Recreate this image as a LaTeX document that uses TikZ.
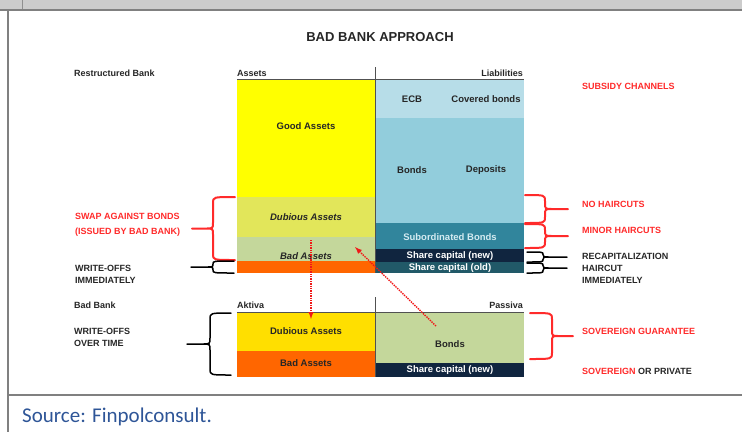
\documentclass[tikz,border=0pt]{standalone}
\usepackage{fontspec}
\setmainfont{Liberation Sans}
\newfontfamily\srcfont{Carlito}

\definecolor{framegray}{HTML}{808080}
\definecolor{bargray}{HTML}{CCCCCC}
\definecolor{goodyel}{HTML}{FFFF00}
\definecolor{dubyel}{HTML}{E2E65A}
\definecolor{badolive}{HTML}{C4D79B}
\definecolor{lossorange}{HTML}{FF6600}
\definecolor{aktyel}{HTML}{FFDF00}
\definecolor{ecbblue}{HTML}{B7DDE8}
\definecolor{bondblue}{HTML}{92CDDC}
\definecolor{subteal}{HTML}{31859C}
\definecolor{capnavy}{HTML}{10253F}
\definecolor{capteal}{HTML}{215968}
\definecolor{swapred}{HTML}{FF2A2A}
\definecolor{arrowred}{HTML}{F01818}
\definecolor{inkgray}{HTML}{262626}
\definecolor{srcblue}{HTML}{2E5597}

% brace: style, end x, top y, bottom y, body x, stem x
\newcommand{\sidebrace}[6]{%
  \pgfmathsetmacro{\bmid}{(#3+#4)/2}
  \pgfmathsetmacro{\brad}{min(6,(#4-#3)/4)}
  \pgfmathsetmacro{\btip}{#5+(#6-#5)/3}
  \draw[#1] (#2,#3) .. controls (#5,#3) .. (#5,{#3+\brad}) --
	(#5,{\bmid-\brad}) .. controls (#5,\bmid) .. (\btip,\bmid)
	.. controls (#5,\bmid) .. (#5,{\bmid+\brad}) --
	(#5,{#4-\brad}) .. controls (#5,#4) .. (#2,#4)
	(\btip,\bmid) -- (#6,\bmid);
}

\begin{document}
\begin{tikzpicture}[
    x = 1pt, y = -1pt,
    lbl/.style = {font = \bfseries\fontsize{9}{12}\selectfont, inner sep = 0pt, text = inkgray},
    boxlbl/.style = {lbl, font = \bfseries\fontsize{9.5}{11}\selectfont},
    note/.style = {lbl, anchor = west, align = left},
    rednote/.style = {note, text = swapred},
    axisline/.style = {draw = inkgray!80, line width = 0.8pt},
    bracered/.style = {draw = swapred, line width = 2pt, line cap = round, line join = round},
    braceblk/.style = {draw = black, line width = 1.5pt, line cap = round, line join = round},
    swaparrow/.style = {draw = arrowred, densely dotted, line width = 1.4pt, -latex}]

\useasboundingbox (0,0) rectangle (742,432);

% frame
\fill[bargray] (0,0) rectangle (742,10);
\draw[bargray!70!black, line width = 0.5pt] (22,0) -- (22,9);
\draw[framegray, line width = 2pt] (0,10) -- (742,10)
	  (8,10) -- (8,432)
	  (8,395) -- (742,395);

\node[font = \bfseries\fontsize{13}{15}\selectfont, text = inkgray] (title) at (380,37) {BAD BANK APPROACH};

% restructured bank
\fill[goodyel] (237,79) rectangle (375,197);
\fill[dubyel] (237,197) rectangle (375,237);
\fill[badolive] (237,237) rectangle (375,261);
\fill[lossorange] (237,261) rectangle (375,273);
\fill[ecbblue] (375,79) rectangle (524,118);
\fill[bondblue] (375,118) rectangle (524,223);
\fill[subteal] (375,223) rectangle (524,249);
\fill[capnavy] (375,249) rectangle (524,262);
\fill[capteal] (375,262) rectangle (524,273);
\draw[axisline] (237,79) -- (524,79)
	  (375,67) -- (375,273);

% bad bank
\fill[aktyel] (237,312) rectangle (375,351);
\fill[lossorange] (237,351) rectangle (375,377);
\fill[badolive] (375,312) rectangle (524,363);
\fill[capnavy] (375,363) rectangle (524,377);
\draw[axisline] (237,312) -- (524,312)
	  (375,297) -- (375,377);

% box texts
\node[boxlbl] (good) at (306,126) {Good Assets};
\node[boxlbl] (ecb) at (412,99) {ECB};
\node[boxlbl] (covered) at (486,99) {Covered bonds};
\node[boxlbl] (bonds) at (412,170) {Bonds};
\node[boxlbl] (deposits) at (486,170) {Deposits};
\node[boxlbl, font = \bfseries\itshape\fontsize{9.5}{11}\selectfont] (dubious) at (306,217) {Dubious Assets};
\node[boxlbl, font = \bfseries\itshape\fontsize{9.5}{11}\selectfont] (bad) at (306,256) {Bad Assets};
\node[boxlbl, text = ecbblue!60!white] (subord) at (450,237) {Subordinated Bonds};
\node[boxlbl, text = white] (capnew) at (450,256) {Share capital (new)};
\node[boxlbl, text = white] (capold) at (450,268) {Share capital (old)};
\node[boxlbl] (bbdubious) at (306,331) {Dubious Assets};
\node[boxlbl] (bbbad) at (306,363) {Bad Assets};
\node[boxlbl] (bbbonds) at (450,344) {Bonds};
\node[boxlbl, text = white] (bbcap) at (450,370) {Share capital (new)};

% headings
\node[note] (restr) at (74,73) {Restructured Bank};
\node[note] (assets) at (237,73) {Assets};
\node[lbl, anchor = east] (liab) at (523,73) {Liabilities};
\node[note] (badbank) at (74,305) {Bad Bank};
\node[note] (aktiva) at (237,305) {Aktiva};
\node[lbl, anchor = east] (passiva) at (523,305) {Passiva};

% left notes
\node[rednote] (swap) at (75,224.5) {SWAP AGAINST BONDS\\[3pt](ISSUED BY BAD BANK)};
\node[note] (wrimm) at (75,274) {WRITE-OFFS\\IMMEDIATELY};
\node[note] (wrtime) at (74,337.5) {WRITE-OFFS\\OVER TIME};

% right notes
\node[rednote] (subsidy) at (582,86) {SUBSIDY CHANNELS};
\node[rednote] (nohair) at (582,204) {NO HAIRCUTS};
\node[rednote] (minor) at (582,230) {MINOR HAIRCUTS};
\node[note] (recap) at (582,256) {RECAPITALIZATION};
\node[note] (haircut) at (582,274) {HAIRCUT\\IMMEDIATELY};
\node[rednote] (guar) at (582,331) {SOVEREIGN GUARANTEE};
\node[note] (private) at (582,371) {\textcolor{swapred}{SOVEREIGN} OR PRIVATE};

% braces
\sidebrace{bracered}{235}{197}{260}{213}{192}
\sidebrace{braceblk}{234}{261}{273}{213}{191}
\sidebrace{braceblk}{231}{313}{375}{210}{187}
\sidebrace{bracered}{525}{195}{223}{545}{568}
\sidebrace{bracered}{525}{224}{248}{545}{568}
\sidebrace{braceblk}{527}{252}{262}{543}{567}
\sidebrace{braceblk}{527}{263}{273}{543}{567}
\sidebrace{bracered}{530}{313}{359}{552}{573}

% swap arrows
\coordinate (dubstart) at (311,240);
\coordinate (dubend) at (311,319);
\coordinate (bondstart) at (436,326);
\coordinate (bondend) at (355,247);
\draw[swaparrow] (dubstart) -- (dubend);
\draw[swaparrow] (bondstart) -- (bondend);

\node[anchor = west, inner sep = 0pt, text = srcblue, font = \srcfont\fontsize{21}{24}\selectfont] (source) at (22,417) {Source: Finpolconsult.};
\end{tikzpicture}
\end{document}
